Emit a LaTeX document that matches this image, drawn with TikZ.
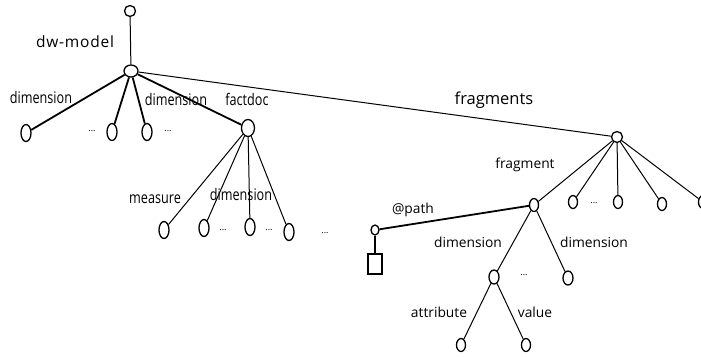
\documentclass[tikz,border=0pt]{standalone}
\usepackage{fontspec}
\setmainfont{Open Sans}
\newfontfamily\condfont[FakeStretch=0.79]{Open Sans}
\newfontfamily\widefont[LetterSpace=5]{Open Sans}
\usetikzlibrary{shapes.geometric}
\begin{document}
\begin{tikzpicture}[x=1pt,y=-1pt,
    vertex/.style={draw,ellipse,inner sep=0pt,line width=1.3pt},
    roundv/.style={vertex,minimum width=11pt,minimum height=11pt},
    tallv/.style={vertex,minimum width=10pt,minimum height=17pt},
    smallv/.style={vertex,minimum width=9pt,minimum height=13pt},
    lab/.style={anchor=base,inner sep=0pt,font=\fontsize{13.8}{16}\selectfont},
    clab/.style={anchor=base,inner sep=0pt,font=\condfont\fontsize{16}{18}\selectfont},
    dots/.style={inner sep=0pt,font=\fontsize{9}{10}\selectfont},
    heavy/.style={line width=1.8pt},
    light/.style={line width=1pt}]
        % Fix the margins
        \useasboundingbox (0,0) rectangle (701,356);

        % Draw the top of the tree
        \node[roundv] (top) at (130,11) {};
        \node[vertex,minimum width=14pt,minimum height=12pt] (root) at (131,71) {};
        \draw[light] (top) -- (root);
        \node[anchor=base,inner sep=0pt,font=\widefont\fontsize{15.5}{17}\selectfont] (dwlab) at (75,47) {dw-model};

        % Draw the dimensions and the factdoc
        \node[tallv] (dimA) at (26,133) {};
        \node[tallv] (dimB) at (112,132) {};
        \node[tallv] (dimC) at (147,132) {};
        \node[vertex,minimum width=13pt,minimum height=17pt] (fact) at (248,128) {};
        \node[dots] (dotsA) at (92,131) {...};
        \node[dots] (dotsB) at (168,131) {...};
        \foreach \n in {dimA,dimB,dimC,fact}
            \draw[heavy] (root) -- (\n);
        \node[clab] (dimlabA) at (41,103) {dimension};
        \node[clab] (dimlabB) at (176,105) {dimension};
        \node[clab] (factlab) at (247,105) {factdoc};

        % Draw the children of the factdoc
        \node[tallv] (meas) at (164,230) {};
        \node[tallv] (factB) at (204,228) {};
        \node[tallv] (factC) at (250,227) {};
        \node[tallv] (factD) at (289,232) {};
        \node[dots] (dotsC) at (223,230) {...};
        \node[dots] (dotsD) at (269,230) {...};
        \node[dots] (dotsE) at (325,233) {...};
        \foreach \n in {meas,factB,factC,factD}
            \draw[light] (fact) -- (\n);
        \node[clab] (measlab) at (155,203) {measure};
        \node[clab] (dimlabC) at (241,200) {dimension};

        % Draw the fragments
        \node[roundv] (frags) at (617,137) {};
        \draw[light] (root) -- (frags);
        \node[anchor=base,inner sep=0pt,font=\fontsize{16.5}{18}\selectfont] (fragslab) at (494,104) {fragments};
        \node[smallv] (frag) at (534,205) {};
        \node[smallv] (fragB) at (573,202) {};
        \node[smallv] (fragC) at (618,202) {};
        \node[smallv] (fragD) at (662,204) {};
        \node[smallv] (fragE) at (703,202) {};
        \node[dots] (dotsF) at (594,203) {...};
        \foreach \n in {frag,fragB,fragC,fragD,fragE}
            \draw[light] (frags) -- (\n);
        \node[lab] (fraglab) at (525,168) {fragment};

        % Draw the path with its box
        \node[vertex,minimum width=8pt,minimum height=10pt] (path) at (375,230) {};
        \node[draw,line width=1.3pt,minimum width=14pt,minimum height=20pt,inner sep=0pt] (box) at (375,264) {};
        \draw[heavy] (frag) -- (path);
        \draw[heavy] (path) -- (box);
        \node[lab] (pathlab) at (413,213) {@path};

        % Draw the dimensions of the fragment
        \node[vertex,minimum width=10pt,minimum height=14pt] (fdim) at (494,277) {};
        \node[vertex,minimum width=10pt,minimum height=14pt] (fdimB) at (568,278) {};
        \node[dots] (dotsG) at (524,275) {...};
        \draw[light] (frag) -- (fdim);
        \draw[light] (frag) -- (fdimB);
        \node[lab] (fdimlab) at (468,247) {dimension};
        \node[lab] (fdimlabB) at (594,247) {dimension};

        % Draw the attribute and the value
        \node[smallv] (attr) at (461,345) {};
        \node[smallv] (val) at (526,345) {};
        \draw[light] (fdim) -- (attr);
        \draw[light] (fdim) -- (val);
        \node[lab] (attrlab) at (439,317) {attribute};
        \node[lab] (vallab) at (535,317) {value};
\end{tikzpicture}
\end{document}
